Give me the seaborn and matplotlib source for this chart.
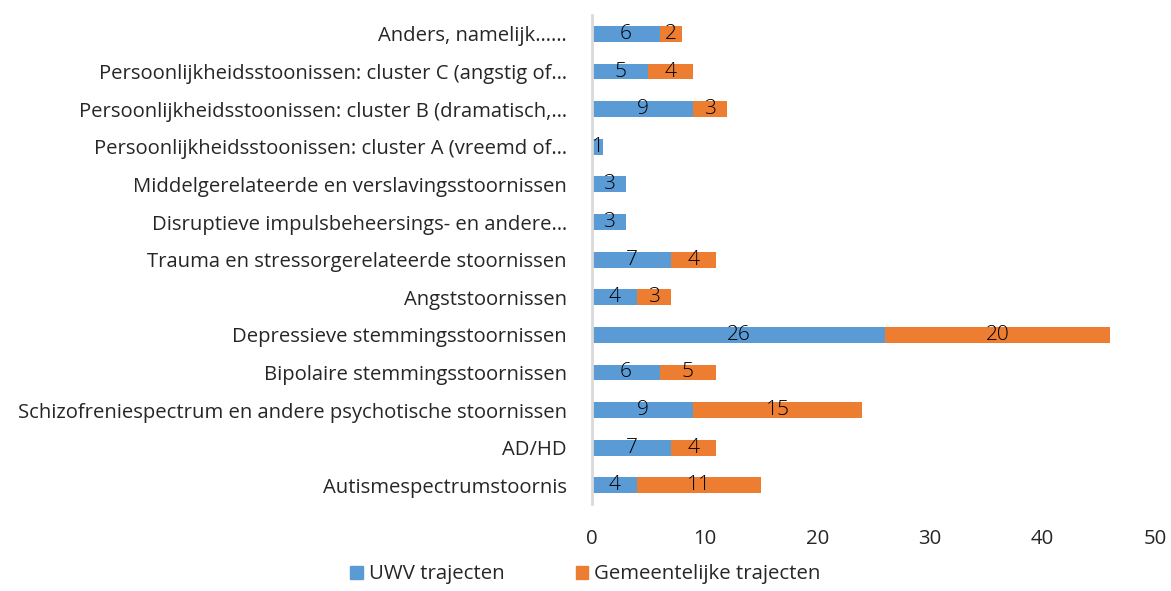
import seaborn as sns
import matplotlib.pyplot as plt
import pandas as pd
from matplotlib.patches import Patch

categories = [
    "Anders, namelijk……",
    "Persoonlijkheidsstoonissen: cluster C (angstig of…",
    "Persoonlijkheidsstoonissen: cluster B (dramatisch,…",
    "Persoonlijkheidsstoonissen: cluster A (vreemd of…",
    "Middelgerelateerde en verslavingsstoornissen",
    "Disruptieve impulsbeheersings- en andere…",
    "Trauma en stressorgerelateerde stoornissen",
    "Angststoornissen",
    "Depressieve stemmingsstoornissen",
    "Bipolaire stemmingsstoornissen",
    "Schizofreniespectrum en andere psychotische stoornissen",
    "AD/HD",
    "Autismespectrumstoornis",
]
uwv = [6, 5, 9, 1, 3, 3, 7, 4, 26, 6, 9, 7, 4]
gemeente = [2, 4, 3, 0, 0, 0, 4, 3, 20, 5, 15, 4, 11]

blue = "#5B9BD5"
orange = "#ED7D31"

df = pd.DataFrame({"cat": categories, "uwv": uwv, "gem": gemeente})
df["total"] = df["uwv"] + df["gem"]

sns.set_style("white")
plt.rcParams["font.family"] = ["Open Sans", "DejaVu Sans"]

fig = plt.figure(figsize=(11.71, 5.91), dpi=100)
ax = fig.add_axes([0.5055, 0.147, 0.4808, 0.8274])

sns.barplot(data=df, x="total", y="cat", color=orange, saturation=1, width=0.42,
            linewidth=0, ax=ax)
sns.barplot(data=df, x="uwv", y="cat", color=blue, saturation=1, width=0.42,
            linewidth=0, ax=ax)

for i, row in df.iterrows():
    ax.text(row["uwv"] / 2, i, str(row["uwv"]), ha="center", va="center",
            fontsize=15, color="black", fontweight="light")
    if row["gem"] > 0:
        ax.text(row["uwv"] + row["gem"] / 2, i, str(row["gem"]), ha="center",
                va="center", fontsize=15, color="black", fontweight="light")

ax.set_xlim(0, 50)
ax.set_xticks(range(0, 51, 10))
ax.set_xlabel("")
ax.set_ylabel("")
ax.tick_params(axis="x", length=0, pad=18, labelsize=14.7, colors="#262626")
ax.tick_params(axis="y", length=0, pad=18, labelsize=14.6, colors="#262626")
for s in ["top", "right", "bottom"]:
    ax.spines[s].set_visible(False)
ax.spines["left"].set_color("#D9D9D9")
ax.spines["left"].set_linewidth(2)

handles = [Patch(color=blue, label="UWV trajecten"),
           Patch(color=orange, label="Gemeentelijke trajecten")]
fig.legend(handles=handles, loc="center", bbox_to_anchor=(0.5, 0.028), ncol=2,
           frameon=False, fontsize=14.7, handlelength=0.6, handleheight=0.6,
           handletextpad=0.3, columnspacing=3.5, labelcolor="#262626")

fig.savefig("out.png", dpi=100)
